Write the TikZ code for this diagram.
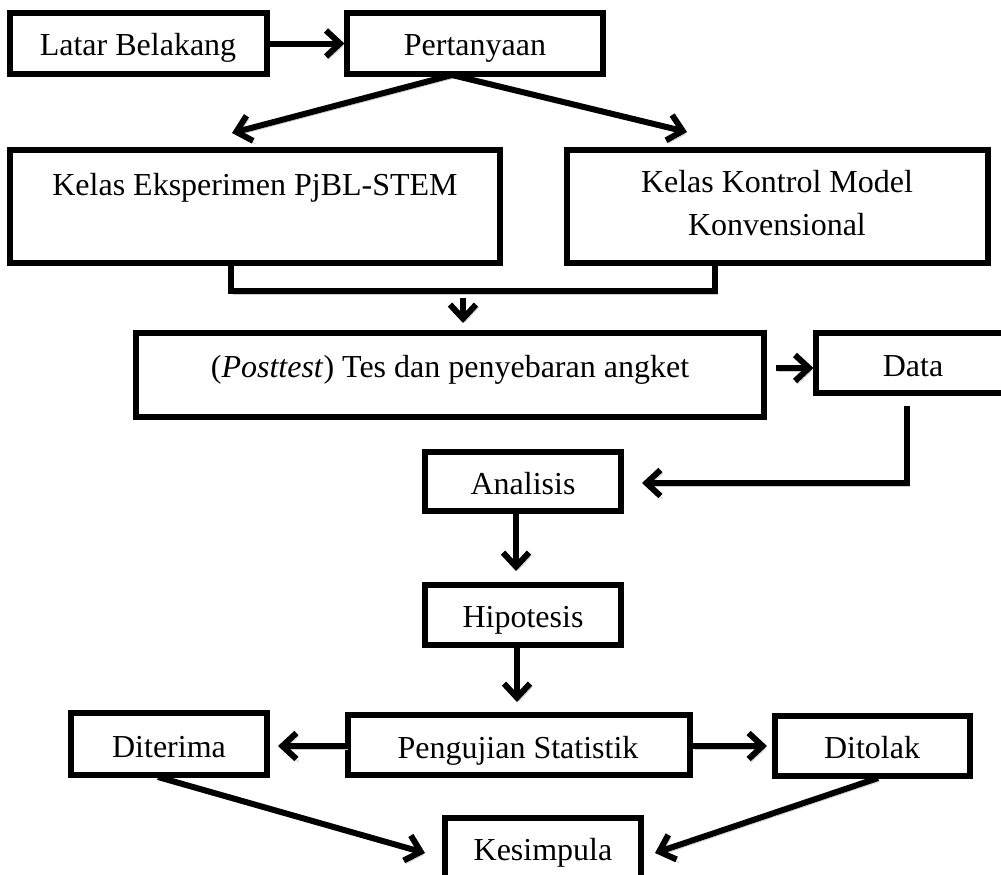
\documentclass[tikz,border=0pt]{standalone}
\usepackage{fontspec}
\setmainfont{Liberation Serif}
\usetikzlibrary{arrows.meta,fit,shadows}
\begin{document}
\begin{tikzpicture}[x=0.5pt,y=-0.5pt,
  box/.style={draw, line width=2.6pt, inner sep=0pt, fill=white,
    drop shadow={opacity=0.22, shadow xshift=1.2pt, shadow yshift=-1.5pt}},
  shd/.style={preaction={draw=black!20, transform canvas={xshift=1.2pt,yshift=-1.5pt}}},
  arr/.style={shd, line width=3pt, -{Straight Barb[length=7pt,width=13pt]}},
  ln/.style={shd, line width=3pt},
  txt/.style={font=\fontsize{16}{21.5}\selectfont, inner sep=0pt, anchor=base}]
\useasboundingbox (0,0) rectangle (1001,874);
% boxes
\node[box, fit={(10,13)(267,74)}] (lb) {};
\node[txt] (lbt) at (138,55) {Latar Belakang};
\node[box, fit={(347,13)(603,74)}] (pt) {};
\node[txt] (ptt) at (475,55) {Pertanyaan};
\node[box, fit={(10,150)(500,263)}] (ke) {};
\node[txt] (ket) at (255,195) {Kelas Eksperimen PjBL-STEM};
\node[box, fit={(567,150)(988,263)}] (kk) {};
\node[txt] (kkt1) at (777,192) {Kelas Kontrol Model};
\node[txt] (kkt2) at (777,235) {Konvensional};
\node[box, fit={(136,333)(764,417)}] (po) {};
\node[txt] (pot) at (450,377) {(\textit{Posttest}) Tes dan penyebaran angket};
\node[box, fit={(816,333)(1010,393)}] (da) {};
\node[txt] (dat) at (913,376) {Data};
\node[box, fit={(425,452)(621,511)}] (an) {};
\node[txt] (ant) at (523,494) {Analisis};
\node[box, fit={(425,585)(621,645)}] (hi) {};
\node[txt] (hit) at (523,627) {Hipotesis};
\node[box, fit={(348,715)(690,775)}] (pe) {};
\node[txt] (pet) at (518,758) {Pengujian Statistik};
\node[box, fit={(71,713)(267,775)}] (di) {};
\node[txt] (dit) at (169,757) {Diterima};
\node[box, fit={(775,716)(970,776)}] (dt) {};
\node[txt] (dtt) at (872,758) {Ditolak};
\node[box, fit={(445,818)(641,900)}] (ks) {};
\node[txt] (kst) at (543,860) {Kesimpula};
% connectors
\draw[arr] (lb.east) -- (pt.west);
\coordinate (ps) at (452,75);
\coordinate (pl) at (232,133);
\coordinate (pr) at (687,132);
\draw[arr] (ps) -- (pl);
\draw[arr] (ps) -- (pr);
\coordinate (m1) at (231,291);
\coordinate (m2) at (715,291);
\draw[ln] (m1 |- ke.south) -- (m1) -- (m2) -- (m2 |- kk.south);
\coordinate (m3) at (463,298);
\coordinate (m4) at (463,323);
\draw[arr] (m3) -- (m4);
\coordinate (d1) at (776,368);
\draw[arr] (d1) -- (d1 -| da.west);
\coordinate (d2) at (907,406);
\coordinate (d3) at (907,483);
\coordinate (d4) at (642,483);
\draw[arr] (d2) -- (d3) -- (d4);
\coordinate (a0) at (516,511);
\coordinate (a1) at (516,571);
\draw[arr] (a0) -- (a1);
\coordinate (h0) at (517,645);
\coordinate (h1) at (517,702);
\draw[arr] (h0) -- (h1);
\coordinate (p1) at (278,746);
\coordinate (p2) at (767,746);
\draw[arr] (p1 -| pe.west) -- (p1);
\draw[arr] (p2 -| pe.east) -- (p2);
\coordinate (k1) at (158,777);
\coordinate (k2) at (425,853);
\coordinate (k3) at (878,778);
\coordinate (k4) at (655,853);
\draw[arr] (k1) -- (k2);
\draw[arr] (k3) -- (k4);
\end{tikzpicture}
\end{document}
